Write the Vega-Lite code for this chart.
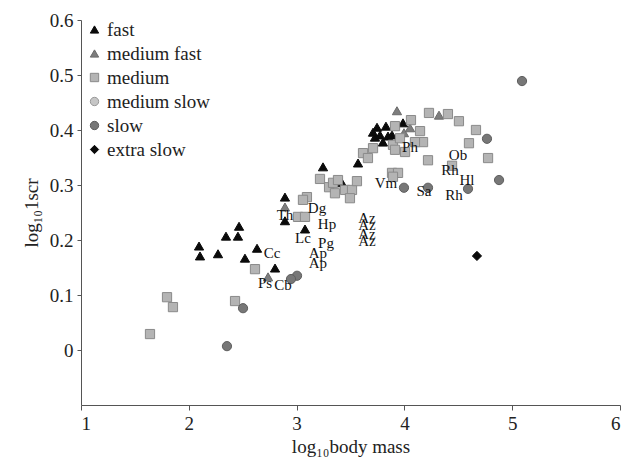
{
  "$schema": "https://vega.github.io/schema/vega-lite/v6.json",
  "width": 539,
  "height": 385,
  "autosize": {"type": "none"},
  "padding": {"left": 81, "top": 20, "right": 5, "bottom": 57},
  "background": "white",
  "config": {
    "view": {"stroke": null},
    "font": "Liberation Serif",
    "axis": {"grid": false, "domainColor": "#555", "tickColor": "#555", "labelColor": "#222", "titleColor": "#222", "labelFont": "Liberation Serif", "titleFont": "Liberation Serif", "labelFontSize": 19, "titleFontSize": 19, "titleFontWeight": "normal"},
    "legend": {"labelFont": "Liberation Serif", "labelFontSize": 19, "labelColor": "#222"}
  },
  "datasets": {
    "pts": [
      {"x": 2.095, "y": 0.189, "speed": "fast"},
      {"x": 2.104, "y": 0.171, "speed": "fast"},
      {"x": 2.271, "y": 0.175, "speed": "fast"},
      {"x": 2.345, "y": 0.207, "speed": "fast"},
      {"x": 2.456, "y": 0.207, "speed": "fast"},
      {"x": 2.466, "y": 0.225, "speed": "fast"},
      {"x": 2.521, "y": 0.167, "speed": "fast"},
      {"x": 2.633, "y": 0.185, "speed": "fast"},
      {"x": 2.8, "y": 0.149, "speed": "fast"},
      {"x": 2.892, "y": 0.278, "speed": "fast"},
      {"x": 2.892, "y": 0.235, "speed": "fast"},
      {"x": 3.078, "y": 0.22, "speed": "fast"},
      {"x": 3.245, "y": 0.333, "speed": "fast"},
      {"x": 3.421, "y": 0.304, "speed": "fast"},
      {"x": 3.57, "y": 0.34, "speed": "fast"},
      {"x": 3.746, "y": 0.405, "speed": "fast"},
      {"x": 3.829, "y": 0.407, "speed": "fast"},
      {"x": 3.987, "y": 0.413, "speed": "fast"},
      {"x": 3.727, "y": 0.387, "speed": "fast"},
      {"x": 3.774, "y": 0.391, "speed": "fast"},
      {"x": 3.848, "y": 0.389, "speed": "fast"},
      {"x": 3.801, "y": 0.378, "speed": "fast"},
      {"x": 3.709, "y": 0.396, "speed": "fast"},
      {"x": 3.885, "y": 0.391, "speed": "fast"},
      {"x": 3.931, "y": 0.435, "speed": "medium fast"},
      {"x": 4.321, "y": 0.427, "speed": "medium fast"},
      {"x": 4.052, "y": 0.404, "speed": "medium fast"},
      {"x": 3.996, "y": 0.395, "speed": "medium fast"},
      {"x": 2.892, "y": 0.26, "speed": "medium fast"},
      {"x": 2.735, "y": 0.133, "speed": "medium fast"},
      {"x": 3.913, "y": 0.407, "speed": "medium"},
      {"x": 4.061, "y": 0.418, "speed": "medium"},
      {"x": 4.228, "y": 0.431, "speed": "medium"},
      {"x": 4.404, "y": 0.429, "speed": "medium"},
      {"x": 4.506, "y": 0.416, "speed": "medium"},
      {"x": 4.145, "y": 0.398, "speed": "medium"},
      {"x": 4.664, "y": 0.4, "speed": "medium"},
      {"x": 4.599, "y": 0.376, "speed": "medium"},
      {"x": 4.776, "y": 0.349, "speed": "medium"},
      {"x": 4.219, "y": 0.345, "speed": "medium"},
      {"x": 4.442, "y": 0.335, "speed": "medium"},
      {"x": 4.173, "y": 0.378, "speed": "medium"},
      {"x": 4.098, "y": 0.378, "speed": "medium"},
      {"x": 3.894, "y": 0.373, "speed": "medium"},
      {"x": 3.913, "y": 0.364, "speed": "medium"},
      {"x": 4.006, "y": 0.36, "speed": "medium"},
      {"x": 3.959, "y": 0.385, "speed": "medium"},
      {"x": 3.709, "y": 0.367, "speed": "medium"},
      {"x": 3.616, "y": 0.358, "speed": "medium"},
      {"x": 3.662, "y": 0.349, "speed": "medium"},
      {"x": 3.885, "y": 0.322, "speed": "medium"},
      {"x": 3.941, "y": 0.322, "speed": "medium"},
      {"x": 3.894, "y": 0.315, "speed": "medium"},
      {"x": 3.217, "y": 0.311, "speed": "medium"},
      {"x": 3.301, "y": 0.296, "speed": "medium"},
      {"x": 3.338, "y": 0.304, "speed": "medium"},
      {"x": 3.356, "y": 0.285, "speed": "medium"},
      {"x": 3.384, "y": 0.309, "speed": "medium"},
      {"x": 3.449, "y": 0.291, "speed": "medium"},
      {"x": 3.514, "y": 0.291, "speed": "medium"},
      {"x": 3.495, "y": 0.276, "speed": "medium"},
      {"x": 3.56, "y": 0.307, "speed": "medium"},
      {"x": 3.096, "y": 0.278, "speed": "medium"},
      {"x": 3.059, "y": 0.273, "speed": "medium"},
      {"x": 3.013, "y": 0.242, "speed": "medium"},
      {"x": 3.078, "y": 0.242, "speed": "medium"},
      {"x": 2.614, "y": 0.147, "speed": "medium"},
      {"x": 1.798, "y": 0.096, "speed": "medium"},
      {"x": 1.853, "y": 0.078, "speed": "medium"},
      {"x": 2.429, "y": 0.089, "speed": "medium"},
      {"x": 1.64, "y": 0.029, "speed": "medium"},
      {"x": 5.091, "y": 0.489, "speed": "slow"},
      {"x": 4.766, "y": 0.384, "speed": "slow"},
      {"x": 4.878, "y": 0.309, "speed": "slow"},
      {"x": 4.59, "y": 0.293, "speed": "slow"},
      {"x": 4.219, "y": 0.295, "speed": "slow"},
      {"x": 3.996, "y": 0.295, "speed": "slow"},
      {"x": 3.004, "y": 0.135, "speed": "slow"},
      {"x": 2.948, "y": 0.129, "speed": "slow"},
      {"x": 2.503, "y": 0.076, "speed": "slow"},
      {"x": 2.354, "y": 0.007, "speed": "slow"},
      {"x": 4.673, "y": 0.171, "speed": "extra slow"}
    ],
    "labels": [
      {"x": 4.052, "y": 0.369, "label": "Ph"},
      {"x": 4.497, "y": 0.355, "label": "Ob"},
      {"x": 4.423, "y": 0.327, "label": "Rh"},
      {"x": 4.581, "y": 0.309, "label": "Hl"},
      {"x": 4.46, "y": 0.282, "label": "Rh"},
      {"x": 4.182, "y": 0.289, "label": "Sa"},
      {"x": 3.829, "y": 0.304, "label": "Vm"},
      {"x": 3.189, "y": 0.258, "label": "Dg"},
      {"x": 3.282, "y": 0.229, "label": "Hp"},
      {"x": 3.273, "y": 0.195, "label": "Pg"},
      {"x": 3.653, "y": 0.24, "label": "Az"},
      {"x": 3.653, "y": 0.227, "label": "Az"},
      {"x": 3.653, "y": 0.211, "label": "Az"},
      {"x": 3.653, "y": 0.198, "label": "Az"},
      {"x": 2.892, "y": 0.245, "label": "Th"},
      {"x": 3.059, "y": 0.204, "label": "Lc"},
      {"x": 3.198, "y": 0.176, "label": "Ap"},
      {"x": 3.198, "y": 0.158, "label": "Ap"},
      {"x": 2.772, "y": 0.176, "label": "Cc"},
      {"x": 2.707, "y": 0.122, "label": "Ps"},
      {"x": 2.874, "y": 0.118, "label": "Cb"}
    ]
  },
  "layer": [
    {
      "data": {"name": "pts"},
      "mark": {"type": "point", "filled": true, "size": 85, "strokeWidth": 1, "opacity": 1},
      "encoding": {
        "x": {"field": "x", "type": "quantitative", "scale": {"domain": [1, 6], "nice": false, "zero": false},
              "axis": {"values": [1, 2, 3, 4, 5, 6], "format": "d", "title": "log₁₀body mass", "tickSize": 5, "labelPadding": 4, "titlePadding": 4}},
        "y": {"field": "y", "type": "quantitative", "scale": {"domain": [-0.1, 0.6], "nice": false, "zero": false},
              "axis": {"values": [0, 0.1, 0.2, 0.3, 0.4, 0.5, 0.6], "title": "log₁₀1scr", "tickSize": 4, "labelPadding": 4, "titlePadding": 8, "format": "~g"}},
        "fill": {"field": "speed", "type": "nominal",
                 "scale": {"domain": ["fast", "medium fast", "medium", "medium slow", "slow", "extra slow"],
                           "range": ["#0a0a0a", "#7d7d7d", "#b4b4b4", "#c6c6c6", "#777777", "#0a0a0a"]},
                 "legend": {"title": null, "orient": "none", "legendX": 4, "legendY": 0, "symbolSize": 70, "rowPadding": 4, "labelOffset": 3, "symbolStrokeWidth": 1}},
        "stroke": {"field": "speed", "type": "nominal",
                   "scale": {"domain": ["fast", "medium fast", "medium", "medium slow", "slow", "extra slow"],
                             "range": ["#0a0a0a", "#6a6a6a", "#8a8a8a", "#999999", "#5e5e5e", "#0a0a0a"]},
                   "legend": {"title": null, "orient": "none", "legendX": 4, "legendY": 0, "symbolSize": 70, "rowPadding": 4, "labelOffset": 3, "symbolStrokeWidth": 1}},
        "shape": {"field": "speed", "type": "nominal",
                  "scale": {"domain": ["fast", "medium fast", "medium", "medium slow", "slow", "extra slow"],
                            "range": ["triangle-up", "triangle-up", "square", "circle", "circle", "diamond"]},
                  "legend": {"title": null, "orient": "none", "legendX": 4, "legendY": 0, "symbolSize": 70, "rowPadding": 4, "labelOffset": 3, "symbolStrokeWidth": 1}}
      }
    },
    {
      "data": {"name": "labels"},
      "mark": {"type": "text", "font": "Liberation Serif", "fontSize": 15, "fill": "#111111", "align": "center", "baseline": "middle"},
      "encoding": {
        "x": {"field": "x", "type": "quantitative"},
        "y": {"field": "y", "type": "quantitative"},
        "text": {"field": "label"}
      }
    }
  ]
}
